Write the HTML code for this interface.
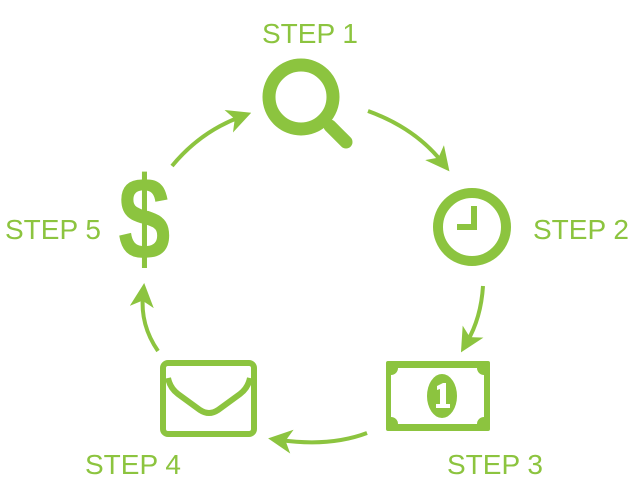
<!DOCTYPE html>
<html><head><style>
html,body{margin:0;padding:0;background:#fff;}
svg{display:block}
text{font-family:"Liberation Sans",sans-serif;fill:#8cc43f}
</style></head><body>
<svg width="635" height="500" viewBox="0 0 635 500" xmlns="http://www.w3.org/2000/svg">
<defs>
<marker id="ah" markerWidth="6" markerHeight="6" refX="3" refY="3" orient="auto" markerUnits="strokeWidth">
<path d="M0,0 L6,3 L0,6 L1.6,3 Z" fill="#8cc43f"/>
</marker>
</defs>
<g fill="none" stroke="#8cc43f" stroke-width="4" marker-end="url(#ah)">
<path d="M368,111 Q415,128 442,162"/>
<path d="M483,286 Q481,318 467,342"/>
<path d="M367,433 Q330,447 280,440"/>
<path d="M158,351 Q140,325 143,295"/>
<path d="M172,166 Q200,132 240,117"/>
</g>
<!-- magnifier -->
<circle cx="301" cy="97" r="32" fill="none" stroke="#8cc43f" stroke-width="13"/>
<line x1="330" y1="126" x2="346" y2="142" stroke="#8cc43f" stroke-width="13" stroke-linecap="round"/>
<!-- clock -->
<circle cx="472" cy="227" r="34" fill="none" stroke="#8cc43f" stroke-width="10"/>
<line x1="474" y1="229" x2="474" y2="206" stroke="#8cc43f" stroke-width="6"/>
<line x1="477" y1="227" x2="457" y2="227" stroke="#8cc43f" stroke-width="6"/>
<!-- money -->
<rect x="386" y="361" width="104" height="70" rx="2" fill="#8cc43f"/>
<path d="M398,368 H477 A7,7 0 0 0 484,375 V417 A7,7 0 0 0 477,424 H398 A7,7 0 0 0 391,417 V375 A7,7 0 0 0 398,368 Z" fill="#fff"/>
<ellipse cx="442" cy="396" rx="15" ry="22" fill="#8cc43f"/>
<path d="M437,386 L443,383 L446,383 L446,404 L450,404 L450,408 L436,408 L436,404 L440,404 L440,389 L437,390 Z" fill="#fff"/>
<!-- envelope -->
<rect x="163" y="363" width="91" height="71" rx="5" fill="none" stroke="#8cc43f" stroke-width="6"/>
<path d="M168,378 Q170,388 178,394 L200,410 Q209,416 218,410 L240,394 Q248,388 250,378" fill="none" stroke="#8cc43f" stroke-width="6"/>
<!-- dollar -->
<text transform="translate(118,259) scale(0.8,1)" font-size="118" font-weight="bold">$</text>
<text x="310" y="43" font-size="28" text-anchor="middle">STEP 1</text>
<text x="581" y="239" font-size="28" text-anchor="middle">STEP 2</text>
<text x="495" y="474" font-size="28" text-anchor="middle">STEP 3</text>
<text x="133" y="474" font-size="28" text-anchor="middle">STEP 4</text>
<text x="53" y="239" font-size="28" text-anchor="middle">STEP 5</text>
</svg>
</body></html>
